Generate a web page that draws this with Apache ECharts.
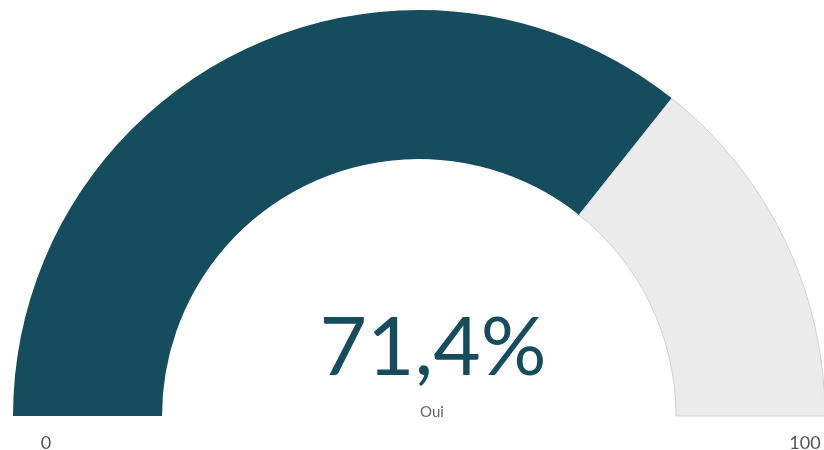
<!DOCTYPE html>
<html>
<head>
<meta charset="utf-8">
<script src="https://cdn.jsdelivr.net/npm/echarts@6/dist/echarts.min.js"></script>
<style>
  html, body { margin: 0; padding: 0; background: #fff; }
  #chart { width: 824px; height: 450px; }
</style>
</head>
<body>
<div id="chart"></div>
<script>
  // données de la jauge
  const gaugeMin = 0
  const gaugeMax = 100
  const gaugeValue = 71.4
  const gaugeLabel = 'Oui'
  const scaleLabels = ['0', '100']

  const chart = echarts.init(document.getElementById('chart'))
  const fontFamily = 'Lato, "Open Sans", sans-serif'
  const dark = '#154c5e'

  const span = gaugeMax - gaugeMin
  const option = {
    animation: false,
    title: [
      {
        text: gaugeValue.toFixed(1).replace('.', ',') + '%',
        left: 428,
        top: 303,
        textAlign: 'center',
        textStyle: { color: dark, fontSize: 82, fontWeight: 'normal', fontFamily: fontFamily }
      },
      {
        text: gaugeLabel,
        left: 427,
        top: 400,
        textAlign: 'center',
        textStyle: { color: '#666', fontSize: 15, fontWeight: 'normal', fontFamily: fontFamily }
      },
      {
        text: scaleLabels[0],
        left: 41,
        top: 429,
        textAlign: 'center',
        textStyle: { color: '#555', fontSize: 18, fontWeight: 'normal', fontFamily: fontFamily }
      },
      {
        text: scaleLabels[1],
        left: 800,
        top: 429,
        textAlign: 'center',
        textStyle: { color: '#555', fontSize: 18, fontWeight: 'normal', fontFamily: fontFamily }
      }
    ],
    series: [
      {
        type: 'pie',
        center: [419, 416],
        radius: [257, 406],
        startAngle: 180,
        clockwise: true,
        silent: true,
        label: { show: false },
        labelLine: { show: false },
        data: [
          { value: gaugeValue - gaugeMin, itemStyle: { color: dark } },
          { value: gaugeMax - gaugeValue, itemStyle: { color: '#ebebeb', borderColor: '#d2d2d2', borderWidth: 1 } },
          { value: span, itemStyle: { color: 'transparent' } }
        ]
      }
    ]
  }

  chart.setOption(option)
</script>
</body>
</html>
